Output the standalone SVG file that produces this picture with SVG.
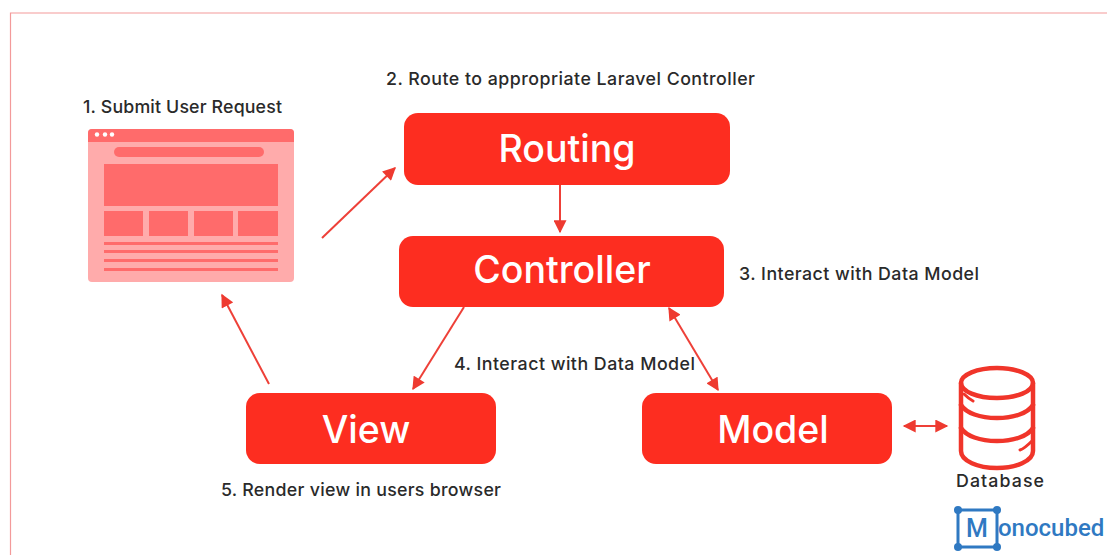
<svg xmlns="http://www.w3.org/2000/svg" width="1107" height="555" viewBox="0 0 1107 555">
<style>
.lbl{font-family:"Inter","Liberation Sans",sans-serif;font-size:17.8px;font-weight:500;fill:#2a2a2a}
.nt{font-family:"Inter","Liberation Sans",sans-serif;font-size:37.500px;font-weight:500;fill:#fff;text-anchor:middle}
.box{fill:#fd2d20}
.c{stroke:#ee4038;stroke-width:2;fill:none}
.lite{fill:#ff6b6b}
.db{fill:none;stroke:#f0352a;stroke-width:4.5;stroke-linecap:round}
</style>
<defs>
<marker id="a" viewBox="0 0 10 10" refX="9" refY="5" markerWidth="14" markerHeight="13" markerUnits="userSpaceOnUse" orient="auto-start-reverse"><path d="M0 0L10 5L0 10Z" fill="#ee3a30"/></marker>
</defs>
<rect width="1107" height="555" fill="#fff"/>
<path d="M1107 13H10.500V555" fill="none" stroke="#f39a9a" stroke-width="1.200"/>
<g id="connectors">
<path class="c" d="M322 238L395 168" marker-end="url(#a)"/>
<path class="c" d="M560 185V232" marker-end="url(#a)"/>
<path class="c" d="M464 307L413 389" marker-end="url(#a)"/>
<path class="c" d="M669 308L718 390" marker-start="url(#a)" marker-end="url(#a)"/>
<path class="c" d="M269 384L222 295" marker-end="url(#a)"/>
<path class="c" d="M904 426H947" marker-start="url(#a)" marker-end="url(#a)"/>
</g>
<g id="browser">
<rect x="88" y="129" width="206" height="153" rx="4" fill="#ffabab"/>
<path class="lite" d="M88 142V133a4 4 0 0 1 4-4H290a4 4 0 0 1 4 4V142Z"/>
<circle cx="97" cy="134.500" r="2.200" fill="#fff"/><circle cx="105" cy="134.500" r="2.200" fill="#fff"/><circle cx="112" cy="134.500" r="2.200" fill="#fff"/>
<rect class="lite" x="114" y="147" width="150" height="10" rx="5"/>
<rect class="lite" x="104" y="164" width="174" height="42"/>
<rect class="lite" x="104" y="211" width="39" height="25"/>
<rect class="lite" x="149" y="211" width="39" height="25"/>
<rect class="lite" x="194" y="211" width="39" height="25"/>
<rect class="lite" x="238" y="211" width="40" height="25"/>
<rect class="lite" x="104" y="242" width="174" height="3"/>
<rect class="lite" x="104" y="250" width="174" height="3"/>
<rect class="lite" x="104" y="259" width="174" height="3"/>
<rect class="lite" x="104" y="268" width="174" height="3"/>
<text class="lbl" x="83" y="113" textLength="199">1. Submit User Request</text>
</g>
<g id="routing"><rect class="box" x="404" y="113" width="326" height="72" rx="14"/><text class="nt" x="567" y="162">Routing</text></g>
<g id="controller"><rect class="box" x="399" y="236" width="325" height="71" rx="14"/><text class="nt" x="562" y="283">Controller</text></g>
<g id="view"><rect class="box" x="246" y="393" width="250" height="71" rx="14"/><text class="nt" x="366" y="443">View</text></g>
<g id="model"><rect class="box" x="642" y="393" width="250" height="71" rx="14"/><text class="nt" x="773" y="443">Model</text></g>
<g id="database">
<ellipse class="db" cx="997" cy="383" rx="36" ry="15"/>
<path class="db" d="M961 383V451C961 461 978 468 997 468S1033 461 1033 451V383"/>
<path class="db" d="M961 405C966 413 980 418 997 418S1028 413 1033 405"/>
<path class="db" d="M961 428C966 436 980 441 997 441S1028 436 1033 428"/>
<path d="M964 394C968 398 971 400 973 401M1033 440C1028 445 1024 449 1020 450" fill="none" stroke="#f0352a" stroke-width="3" stroke-linecap="round"/>
<text class="lbl" x="956" y="487" textLength="88">Database</text>
</g>
<g id="labels">
<text class="lbl" x="386" y="85" textLength="369">2. Route to appropriate Laravel Controller</text>
<text class="lbl" x="739" y="280" textLength="240">3. Interact with Data Model</text>
<text class="lbl" x="454" y="370" textLength="241">4. Interact with Data Model</text>
<text class="lbl" x="221" y="496" textLength="280">5. Render view in users browser</text>
</g>
<g id="logo">
<rect x="958" y="510" width="39" height="37" fill="none" stroke="#2f79c2" stroke-width="3"/>
<circle cx="958" cy="510" r="4" fill="#2f79c2"/><circle cx="997" cy="510" r="4" fill="#2f79c2"/><circle cx="958" cy="547" r="4" fill="#2f79c2"/><circle cx="997" cy="547" r="4" fill="#2f79c2"/>
<text x="966" y="537" font-family="Roboto,'Liberation Sans',sans-serif" font-size="25" font-weight="500" fill="#2f79c2">M</text>
<text x="998" y="536" font-family="Roboto,'Liberation Sans',sans-serif" font-size="24" font-weight="500" fill="#2f79c2">onocubed</text>
</g>
</svg>
